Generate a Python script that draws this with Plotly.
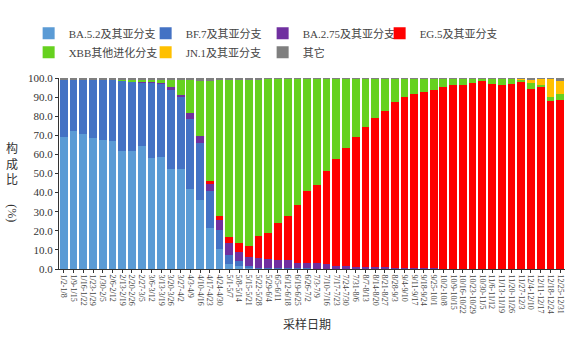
import plotly.graph_objects as go

weeks = ["1/2-1/8", "1/9-1/15", "1/16-1/22", "1/23-1/29", "1/30-2/5", "2/6-2/12", "2/13-2/19",
         "2/20-2/26", "2/27-3/5", "3/6-3/12", "3/13-3/19", "3/20-3/26", "3/27-4/2", "4/3-4/9",
         "4/10-4/16", "4/17-4/23", "4/24-4/30", "5/1-5/7", "5/8-5/14", "5/15-5/21", "5/22-5/28",
         "5/29-6/4", "6/5-6/11", "6/12-6/18", "6/19-6/25", "6/26-7/2", "7/3-7/9", "7/10-7/16",
         "7/17-7/23", "7/24-7/30", "7/31-8/6", "8/7-8/13", "8/14-8/20", "8/21-8/27", "8/28-9/3",
         "9/4-9/10", "9/11-9/17", "9/18-9/24", "9/25-10/1", "10/2-10/8", "10/9-10/15",
         "10/16-10/22", "10/23-10/29", "10/30-11/5", "11/6-11/12", "11/13-11/19", "11/20-11/26",
         "11/27-12/3", "12/4-12/10", "12/11-12/17", "12/18-12/24", "12/25-12/31"]

ba52 = [69.0, 72.0, 70.5, 68.7, 67.8, 66.8, 62.0, 61.6, 64.3, 58.1, 58.4, 52.5, 52.5, 42.0,
        36.3, 21.5, 10.5, 2.7, 1.5, 0.8, 0.3, 0.2, 0.2, 0.2, 0.1, 0.1, 0.1, 0, 0, 0, 0, 0, 0,
        0, 0, 0, 0, 0, 0, 0, 0, 0, 0, 0, 0, 0, 0, 0, 0, 0, 0, 0]
bf7 = [30.3, 27.3, 28.8, 30.6, 31.5, 32.4, 36.7, 36.6, 33.4, 39.3, 38.5, 41.2, 37.5, 36.7,
       29.7, 19.5, 9.7, 4.6, 2.6, 1.0, 0.4, 0.3, 0.2, 0.2, 0.2, 0.2, 0.1, 0.1, 0.1, 0.1, 0, 0,
       0, 0, 0, 0, 0, 0, 0, 0, 0, 0, 0, 0, 0, 0, 0, 0, 0, 0, 0, 0]
ba275 = [0, 0, 0, 0, 0, 0, 0, 0, 0.3, 0.5, 0.5, 1.5, 1.3, 3.1, 3.4, 3.5, 5.5, 6.5, 5.0, 4.4,
         5.0, 4.8, 4.5, 4.3, 2.9, 2.8, 2.7, 2.3, 1.6, 1.5, 1.3, 1.2, 1.0, 0.8, 0.6, 0.5, 0.4,
         0.3, 0.3, 0.2, 0.2, 0.2, 0.1, 0.1, 0.1, 0.1, 0.1, 0.1, 0.1, 0.1, 0.1, 0.1]
eg5 = [0, 0, 0, 0, 0, 0, 0, 0, 0, 0, 0, 0, 0, 0, 0, 1.4, 1.9, 2.8, 4.7, 5.9, 11.5, 13.5, 19.1,
       23.2, 30.5, 37.5, 41.2, 48.7, 55.7, 62.0, 68.0, 73.0, 77.8, 82.1, 86.8, 89.3, 91.2,
       92.2, 93.2, 94.9, 95.9, 96.3, 97.3, 98.1, 96.9, 96.4, 96.9, 97.8, 94.3, 95.5, 87.7, 88.5]
xbb = [0, 0, 0, 0, 0, 0, 0.5, 1.0, 1.2, 1.4, 1.6, 3.6, 7.6, 16.9, 29.2, 52.7, 71.4, 82.4,
       85.2, 87.0, 82.2, 80.7, 75.5, 71.7, 66.0, 59.2, 55.7, 48.7, 42.4, 36.2, 30.5, 25.6,
       21.0, 16.9, 12.4, 10.0, 8.2, 7.3, 6.3, 4.7, 3.7, 3.3, 2.4, 1.6, 2.8, 3.3, 2.8, 1.2, 3.0,
       0.5, 2.2, 3.0]
jn1 = [0] * 47 + [0.7, 1.7, 3.7, 9.8, 6.6]
other = [0.7, 0.7, 0.7, 0.7, 0.7, 0.8, 0.8, 0.8, 0.8, 0.7, 1.0, 1.2, 1.1, 1.3, 1.4, 1.4, 1.0,
         1.0, 1.0, 0.9, 0.6, 0.5, 0.5, 0.4, 0.3, 0.2, 0.2, 0.2, 0.2, 0.2, 0.2, 0.2, 0.2, 0.2,
         0.2, 0.2, 0.2, 0.2, 0.2, 0.2, 0.2, 0.2, 0.2, 0.2, 0.2, 0.2, 0.2, 0.2, 0.9, 0.2, 0.2, 1.8]

series = [
    ("BA.5.2及其亚分支", ba52, "#5B9BD5"),
    ("BF.7及其亚分支", bf7, "#4472C4"),
    ("BA.2.75及其亚分支", ba275, "#7030A0"),
    ("EG.5及其亚分支", eg5, "#FF0000"),
    ("XBB其他进化分支", xbb, "#66D11F"),
    ("JN.1及其亚分支", jn1, "#FFC000"),
    ("其它", other, "#7F7F7F"),
]

FONT = "Liberation Serif, Noto Sans CJK SC, serif"

fig = go.Figure()
for name, vals, col in series:
    fig.add_trace(go.Bar(x=weeks, y=vals, name=name, marker=dict(color=col, line=dict(width=0))))

fig.update_layout(
    barmode="stack",
    bargap=0.2,
    width=578, height=338,
    margin=dict(l=59, r=13, t=78, b=69),
    paper_bgcolor="white", plot_bgcolor="white",
    font=dict(family=FONT, color="#333333"),
    legend=dict(orientation="h", x=-0.06, y=1.31, xanchor="left", yanchor="top",
                entrywidth=72, entrywidthmode="pixels", traceorder="normal",
                bgcolor="rgba(0,0,0,0)",
                font=dict(size=11, family=FONT, color="#444444"),
                itemwidth=30, tracegroupgap=0),
    showlegend=True,
)
fig.update_xaxes(
    tickmode="array", tickvals=weeks, ticktext=weeks,
    tickangle=90, tickfont=dict(size=8, family=FONT, color="#444444"),
    showline=True, linecolor="#333333", linewidth=1,
    ticks="outside", ticklen=3, tickcolor="#333333",
    showgrid=False, type="category", automargin=False,
)
fig.update_yaxes(
    range=[0, 100], dtick=10, tickformat=".1f",
    tickfont=dict(size=11, family=FONT, color="#333333"),
    showline=True, linecolor="#333333", linewidth=1,
    ticks="outside", ticklen=3, tickcolor="#333333",
    showgrid=False, automargin=False,
)
fig.add_annotation(text="构<br>成<br>比", xref="paper", yref="paper", x=-0.092, y=0.55,
                   showarrow=False, font=dict(size=12, family=FONT, color="#333333"),
                   xanchor="center", yanchor="middle")
fig.add_annotation(text="(%)", textangle=90, xref="paper", yref="paper", x=-0.092, y=0.29,
                   showarrow=False, font=dict(size=12, family=FONT, color="#333333"),
                   xanchor="center", yanchor="middle")
fig.add_annotation(text="采样日期", xref="paper", yref="paper", x=0.49, y=-0.29,
                   showarrow=False, font=dict(size=12, family=FONT, color="#333333"),
                   xanchor="center", yanchor="middle")

fig.write_html("out.html")
